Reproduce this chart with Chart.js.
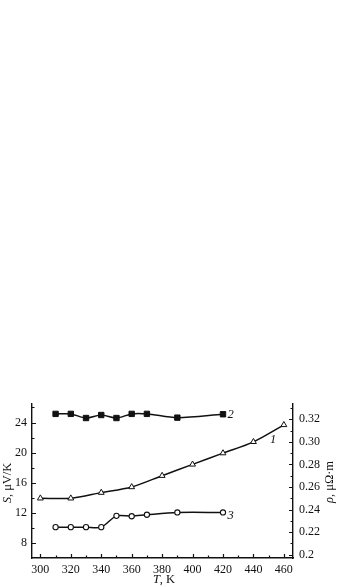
<!DOCTYPE html>
<html>
<head>
<meta charset="utf-8">
<script src="https://cdn.jsdelivr.net/npm/chart.js@4.4.1/dist/chart.umd.min.js"></script>
<style>
  html, body { margin: 0; padding: 0; background: #fff; }
  body { width: 337px; height: 587px; position: relative; overflow: hidden; }
  #wrap { position: absolute; left: 0; top: 390px; width: 337px; height: 197px; }
</style>
</head>
<body>
<div id="wrap"><canvas id="chart" width="337" height="197"></canvas></div>
<script>
// curve 1: resistivity (right axis), curves 2 and 3: thermopower (left axis)
const tempRho = [300, 320, 340, 360, 380, 400, 420, 440, 460];
const rho = [0.250, 0.250, 0.255, 0.260, 0.270, 0.280, 0.290, 0.300, 0.315];

const tempS = [310, 320, 330, 340, 350, 360, 370, 390, 420];
const seebeck2 = [25.15, 25.15, 24.6, 25.0, 24.6, 25.15, 25.15, 24.65, 25.1];
const seebeck3 = [10.1, 10.1, 10.1, 10.1, 11.6, 11.55, 11.75, 12.05, 12.05];

const xTicks = [300, 320, 340, 360, 380, 400, 420, 440, 460];
const sTicks = [8, 12, 16, 20, 24];
const rhoTicks = [0.2, 0.22, 0.24, 0.26, 0.28, 0.30, 0.32];
const rhoLabels = ['0.2', '0.22', '0.24', '0.26', '0.28', '0.30', '0.32'];

const curveLabels = [
  { text: '2', x: 425, y: 25.0, axis: 'yS' },
  { text: '1', x: 453, y: 0.302, axis: 'yRho' },
  { text: '3', x: 425, y: 11.6, axis: 'yS' }
];

const serif = '"Liberation Serif", "DejaVu Serif", serif';

function pts(xs, ys) {
  return xs.map((x, i) => ({ x: x, y: ys[i] }));
}

const decor = {
  id: 'decor',
  afterDraw(chart) {
    const ctx = chart.ctx;
    const a = chart.chartArea;
    const sx = chart.scales.x, sl = chart.scales.yS, sr = chart.scales.yRho;
    ctx.save();
    ctx.strokeStyle = '#111';
    ctx.lineWidth = 1.2;
    // inward ticks
    ctx.beginPath();
    for (let v = 300; v <= 460; v += 10) {
      const p = Math.round(sx.getPixelForValue(v)) + 0.5;
      const len = v % 20 === 0 ? 4 : 2.5;
      ctx.moveTo(p, a.bottom); ctx.lineTo(p, a.bottom - len);
    }
    for (let v = 8; v <= 26; v += 2) {
      const p = Math.round(sl.getPixelForValue(v)) + 0.5;
      const len = v % 4 === 0 ? 4 : 2.5;
      ctx.moveTo(a.left, p); ctx.lineTo(a.left + len, p);
    }
    for (let k = 20; k <= 33; k++) {
      const p = Math.round(sr.getPixelForValue(k / 100)) + 0.5;
      const len = k % 2 === 0 ? 4 : 2.5;
      ctx.moveTo(a.right, p); ctx.lineTo(a.right - len, p);
    }
    ctx.stroke();

    // curve numbers
    ctx.fillStyle = '#111';
    ctx.font = 'italic 12.5px ' + serif;
    ctx.textBaseline = 'middle';
    ctx.textAlign = 'center';
    curveLabels.forEach(l => {
      ctx.fillText(l.text, sx.getPixelForValue(l.x), chart.scales[l.axis].getPixelForValue(l.y));
    });

    // axis titles with italic symbols
    function mixed(parts, cx, cy, rot) {
      ctx.save();
      ctx.translate(cx, cy);
      ctx.rotate(rot);
      let w = 0;
      parts.forEach(p => { ctx.font = p[1] + ' 12.5px ' + serif; w += ctx.measureText(p[0]).width; });
      let x = -w / 2;
      ctx.textAlign = 'left';
      ctx.textBaseline = 'middle';
      parts.forEach(p => {
        ctx.font = p[1] + ' 12.5px ' + serif;
        ctx.fillText(p[0], x, 0);
        x += ctx.measureText(p[0]).width;
      });
      ctx.restore();
    }
    mixed([['T', 'italic'], [', K', 'normal']], 164, 190, 0);
    mixed([['S', 'italic'], [', \u03bcV/K', 'normal']], 8, 93, -Math.PI / 2);
    mixed([['\u03c1', 'italic'], [', \u03bc\u03a9\u00b7m', 'normal']], 330, 92, -Math.PI / 2);
    ctx.restore();
  }
};

new Chart(document.getElementById('chart'), {
  type: 'line',
  data: {
    datasets: [
      {
        label: '1',
        data: pts(tempRho, rho),
        yAxisID: 'yRho',
        borderColor: '#111',
        borderWidth: 1.5,
        tension: 0.3,
        pointStyle: 'triangle',
        pointRadius: 3.4,
        pointBackgroundColor: '#fff',
        pointBorderColor: '#111',
        pointBorderWidth: 1
      },
      {
        label: '2',
        data: pts(tempS, seebeck2),
        yAxisID: 'yS',
        borderColor: '#111',
        borderWidth: 1.5,
        tension: 0.3,
        pointStyle: 'rect',
        pointRadius: 3.8,
        pointBackgroundColor: '#111',
        pointBorderColor: '#111',
        pointBorderWidth: 1
      },
      {
        label: '3',
        data: pts(tempS, seebeck3),
        yAxisID: 'yS',
        borderColor: '#111',
        borderWidth: 1.5,
        tension: 0.3,
        pointStyle: 'circle',
        pointRadius: 2.6,
        pointBackgroundColor: '#fff',
        pointBorderColor: '#111',
        pointBorderWidth: 1.1
      }
    ]
  },
  options: {
    responsive: false,
    animation: false,
    events: [],
    layout: { padding: { top: 13, left: 0, right: 0, bottom: 0 } },
    plugins: {
      legend: { display: false },
      tooltip: { enabled: false }
    },
    scales: {
      x: {
        type: 'linear',
        min: 294.5,
        max: 466,
        afterFit: s => { s.height = 29; },
        afterBuildTicks: s => { s.ticks = xTicks.map(v => ({ value: v })); },
        grid: { display: false, drawTicks: false },
        border: { display: true, color: '#111', width: 1.4 },
        ticks: {
          padding: 5,
          color: '#111',
          font: { family: serif, size: 12 },
          maxRotation: 0,
          autoSkip: false
        }
      },
      yS: {
        type: 'linear',
        position: 'left',
        min: 6,
        max: 26.57,
        afterFit: s => { s.width = 32; },
        afterBuildTicks: s => { s.ticks = sTicks.map(v => ({ value: v })); },
        grid: { display: false, drawTicks: false },
        border: { display: true, color: '#111', width: 1.4 },
        ticks: {
          padding: 5,
          color: '#111',
          font: { family: serif, size: 12 },
          autoSkip: false
        }
      },
      yRho: {
        type: 'linear',
        position: 'right',
        min: 0.1971,
        max: 0.3342,
        afterFit: s => { s.width = 44; },
        afterBuildTicks: s => { s.ticks = rhoTicks.map(v => ({ value: v })); },
        grid: { display: false, drawTicks: false },
        border: { display: true, color: '#111', width: 1.4 },
        ticks: {
          padding: 6,
          color: '#111',
          font: { family: serif, size: 12 },
          autoSkip: false,
          callback: (v, i) => rhoLabels[i]
        }
      }
    }
  },
  plugins: [decor]
});
</script>
</body>
</html>
